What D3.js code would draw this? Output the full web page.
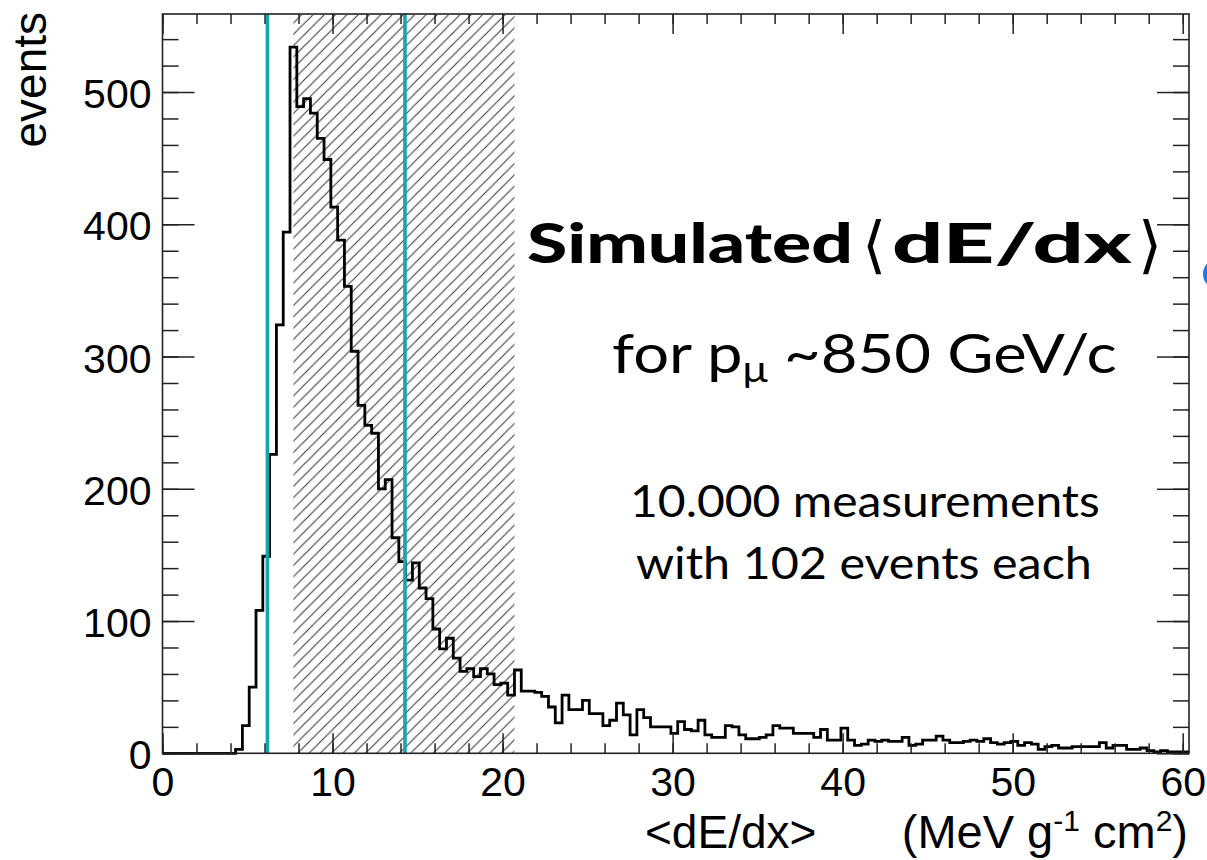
<!DOCTYPE html>
<html>
<head>
<meta charset="utf-8">
<script src="https://cdn.jsdelivr.net/npm/d3@7"></script>
<style>
  html, body { margin: 0; padding: 0; background: #fff; }
  svg { display: block; }
</style>
</head>
<body>
<svg id="chart" width="1207" height="860"></svg>
<script>
// ---- data --------------------------------------------------------------
// histogram of the simulated truncated-mean energy loss, 0.4-wide bins
const binStart = 0.3;
const binWidth = 0.4;
const counts = [
  // 0.3 - 4.3
  0, 0, 0, 0, 0, 0, 0, 0, 0, 0,
  // 4.3 - 8.3
  3, 21, 50, 108, 149, 226, 324, 394, 534, 489,
  // 8.3 - 12.3
  495, 484, 465, 449, 413, 388, 353, 304, 263, 248,
  // 12.3 - 16.3
  242, 200, 207, 163, 145, 131, 144, 125, 117, 94,
  // 16.3 - 20.3
  79, 87, 72, 62, 64, 58, 64, 60, 52, 53,
  // 20.3 - 24.3
  44, 63, 47, 47, 46, 43, 35, 23, 44, 33,
  // 24.3 - 28.3
  33, 40, 30, 30, 21, 25, 38, 29, 14, 33,
  // 28.3 - 32.3
  27, 20, 20, 20, 15, 24, 18, 17, 25, 14,
  // 32.3 - 36.3
  12, 12, 21, 20, 14, 11, 11, 12, 14, 21,
  // 36.3 - 40.3
  19, 19, 15, 15, 15, 12, 18, 10, 10, 19,
  // 40.3 - 44.3
  10, 6, 7, 10, 9, 10, 9, 9, 12, 6,
  // 44.3 - 48.3
  7, 10, 10, 13, 10, 8, 8, 9, 10, 9,
  // 48.3 - 52.3
  11, 8, 7, 8, 9, 6, 8, 7, 3, 5,
  // 52.3 - 56.3
  6, 4, 4, 5, 5, 5, 5, 8, 4, 6,
  // 56.3 - 60.3
  6, 3, 3, 4, 2, 1, 2, 1, 1, 1
];

// selected window (hatched) and the two reference lines
const bandRange = [7.7, 20.7];
const refLines = [6.17, 14.26];

// axes
const xDomain = [0, 60.37];
const yDomain = [0, 559];
const xMajorTicks = [0, 10, 20, 30, 40, 50, 60];
const xTickLabels = ["0", "10", "20", "30", "40", "50", "60"];
const xMinorTicks = d3.range(0, 61, 2);
const yMajorTicks = [0, 100, 200, 300, 400, 500];
const yTickLabels = ["0", "100", "200", "300", "400", "500"];
const yMinorTicks = d3.range(0, 559, 20);

const yTitle = "events";
const xTitleMain = "<dE/dx>";
const xTitleUnit = ["(MeV g", "-1", " cm", "2", ")"];
const titleWord = "Simulated";
const titleQuantity = "dE/dx";
const titleBrackets = ["\u27e8", "\u27e9"];
const momentumText = ["for p", "\u03bc", " ~850 GeV/c"];
const noteLines = ["10.000 measurements", "with 102 events each"];

// ---- layout ------------------------------------------------------------
const frame = { left: 162.5, right: 1189, top: 14, bottom: 753.3 };
const svg = d3.select("#chart");

const x = d3.scaleLinear().domain(xDomain).range([frame.left, frame.right]);
const y = d3.scaleLinear().domain(yDomain).range([frame.bottom, frame.top]);

const AXIS_FONT = '"Liberation Sans", Arial, Helvetica, sans-serif';
const TEXT_FONT = 'Lato, "Open Sans", sans-serif';
const INK = "#222";

// squeeze/stretch a start-anchored text horizontally to a given width
function fitWidth(sel, x0, width) {
  const w = sel.node().getBBox().width;
  const k = width / w;
  sel.attr("transform", `translate(${x0},0) scale(${k},1) translate(${-x0},0)`);
}

// hatch pattern for the selected window
const defs = svg.append("defs");
const s = 11.3;
defs.append("pattern")
  .attr("id", "hatch")
  .attr("patternUnits", "userSpaceOnUse")
  .attr("width", s).attr("height", s)
  .append("path")
  .attr("d", `M0,${s} L${s},0 M${-s / 2},${s / 2} L${s / 2},${-s / 2} M${s / 2},${1.5 * s} L${1.5 * s},${s / 2}`)
  .attr("stroke", "#3a3a3a")
  .attr("stroke-width", 1.1)
  .attr("fill", "none");

svg.append("rect")
  .attr("x", x(bandRange[0]))
  .attr("y", frame.top + 1)
  .attr("width", x(bandRange[1]) - x(bandRange[0]))
  .attr("height", frame.bottom - frame.top - 1)
  .attr("fill", "url(#hatch)");

// histogram outline
const edges = counts.map((_, i) => binStart + i * binWidth);
let d = `M${x(0)},${y(0)} H${x(binStart)}`;
counts.forEach((c, i) => {
  d += ` V${y(c)} H${x(edges[i] + binWidth)}`;
});
d += ` V${y(0)}`;
svg.append("path")
  .attr("d", d)
  .attr("fill", "none")
  .attr("stroke", "#000")
  .attr("stroke-width", 2.8)
  .attr("stroke-linejoin", "miter");

// reference lines
svg.selectAll("line.ref")
  .data(refLines)
  .join("line")
  .attr("class", "ref")
  .attr("x1", v => x(v)).attr("x2", v => x(v))
  .attr("y1", frame.top).attr("y2", frame.bottom)
  .attr("stroke", "#13a6b0")
  .attr("stroke-width", 3.6);

// ---- axes (ticks point inward, on all four sides) -----------------------
function styleAxis(g) {
  g.select(".domain").remove();
  g.selectAll(".tick line").attr("stroke", INK).attr("stroke-width", 1.5);
  g.selectAll(".tick text")
    .attr("fill", "#000")
    .style("font-family", AXIS_FONT)
    .style("font-size", "41px");
}

// bottom
svg.append("g")
  .attr("transform", `translate(0,${frame.bottom})`)
  .call(d3.axisBottom(x).tickValues(xMinorTicks).tickSizeInner(-10).tickSizeOuter(0).tickFormat(""))
  .call(styleAxis);
svg.append("g")
  .attr("transform", `translate(0,${frame.bottom})`)
  .call(d3.axisBottom(x).tickValues(xMajorTicks).tickSizeInner(-20).tickSizeOuter(0)
    .tickPadding(14).tickFormat((v, i) => xTickLabels[i]))
  .call(styleAxis);
// top
svg.append("g")
  .attr("transform", `translate(0,${frame.top})`)
  .call(d3.axisTop(x).tickValues(xMinorTicks).tickSizeInner(-10).tickSizeOuter(0).tickFormat(""))
  .call(styleAxis);
svg.append("g")
  .attr("transform", `translate(0,${frame.top})`)
  .call(d3.axisTop(x).tickValues(xMajorTicks).tickSizeInner(-20).tickSizeOuter(0).tickFormat(""))
  .call(styleAxis);
// left
svg.append("g")
  .attr("transform", `translate(${frame.left},0)`)
  .call(d3.axisLeft(y).tickValues(yMinorTicks).tickSizeInner(-16).tickSizeOuter(0).tickFormat(""))
  .call(styleAxis);
const yAxis = svg.append("g")
  .attr("transform", `translate(${frame.left},0)`)
  .call(d3.axisLeft(y).tickValues(yMajorTicks).tickSizeInner(-32).tickSizeOuter(0)
    .tickPadding(11).tickFormat((v, i) => yTickLabels[i]))
  .call(styleAxis);
yAxis.selectAll(".tick text").attr("dy", "0.38em");
// right
svg.append("g")
  .attr("transform", `translate(${frame.right},0)`)
  .call(d3.axisRight(y).tickValues(yMinorTicks).tickSizeInner(-16).tickSizeOuter(0).tickFormat(""))
  .call(styleAxis);
svg.append("g")
  .attr("transform", `translate(${frame.right},0)`)
  .call(d3.axisRight(y).tickValues(yMajorTicks).tickSizeInner(-32).tickSizeOuter(0).tickFormat(""))
  .call(styleAxis);

// frame
svg.append("rect")
  .attr("x", frame.left).attr("y", frame.top)
  .attr("width", frame.right - frame.left)
  .attr("height", frame.bottom - frame.top)
  .attr("fill", "none")
  .attr("stroke", INK)
  .attr("stroke-width", 1.6);

// ---- axis titles ----------------------------------------------------------
svg.append("text")
  .attr("x", 645).attr("y", 848)
  .style("font-family", AXIS_FONT)
  .style("font-size", "46px")
  .attr("fill", "#000")
  .text(xTitleMain);

const xu = svg.append("text")
  .attr("x", 1188).attr("y", 848)
  .attr("text-anchor", "end")
  .style("font-family", AXIS_FONT)
  .style("font-size", "47px")
  .style("white-space", "pre")
  .attr("fill", "#000");
xu.append("tspan").text(xTitleUnit[0]);
xu.append("tspan").attr("dy", -17).style("font-size", "30px").text(xTitleUnit[1]);
xu.append("tspan").attr("dy", 17).text(xTitleUnit[2]);
xu.append("tspan").attr("dy", -17).style("font-size", "30px").text(xTitleUnit[3]);
xu.append("tspan").attr("dy", 17).text(xTitleUnit[4]);

svg.append("text")
  .attr("transform", `translate(46,${frame.top - 2}) rotate(-90)`)
  .attr("text-anchor", "end")
  .style("font-family", AXIS_FONT)
  .style("font-size", "46px")
  .attr("fill", "#000")
  .text(yTitle);

// ---- annotations -------------------------------------------------------------
const tw = svg.append("text")
  .attr("x", 527).attr("y", 263)
  .style("font-family", TEXT_FONT)
  .style("font-weight", 900)
  .style("font-size", "56px")
  .attr("fill", "#000")
  .text(titleWord);
fitWidth(tw, 527, 326);

const tq = svg.append("text")
  .attr("x", 892).attr("y", 263)
  .style("font-family", TEXT_FONT)
  .style("font-weight", 900)
  .style("font-size", "56px")
  .attr("fill", "#000")
  .text(titleQuantity);
fitWidth(tq, 892, 240);

svg.selectAll("text.bracket")
  .data(titleBrackets)
  .join("text")
  .attr("class", "bracket")
  .attr("x", (t, i) => (i === 0 ? 874 : 1150))
  .attr("y", 266)
  .attr("text-anchor", "middle")
  .style("font-family", '"DejaVu Sans", sans-serif')
  .style("font-size", "62px")
  .attr("fill", "#000")
  .text(t => t);

const mt = svg.append("text")
  .attr("x", 612).attr("y", 373)
  .style("font-family", TEXT_FONT)
  .style("font-size", "54px")
  .attr("fill", "#000");
mt.append("tspan").text(momentumText[0]);
mt.append("tspan").attr("dy", 9).style("font-size", "36px").text(momentumText[1]);
mt.append("tspan").attr("dy", -9).text(momentumText[2]);
fitWidth(mt, 612, 505);

const noteX = [630, 636];
const noteW = [470, 456];
svg.selectAll("text.note")
  .data(noteLines)
  .join("text")
  .attr("class", "note")
  .attr("x", (t, i) => noteX[i])
  .attr("y", (t, i) => (i === 0 ? 517 : 579))
  .style("font-family", TEXT_FONT)
  .style("font-size", "44px")
  .attr("fill", "#000")
  .text(t => t)
  .each(function (t, i) { fitWidth(d3.select(this), noteX[i], noteW[i]); });

// bullet cut by the right edge
svg.append("circle")
  .attr("cx", 1218).attr("cy", 274).attr("r", 15)
  .attr("fill", "#1f78e8");
</script>
</body>
</html>
